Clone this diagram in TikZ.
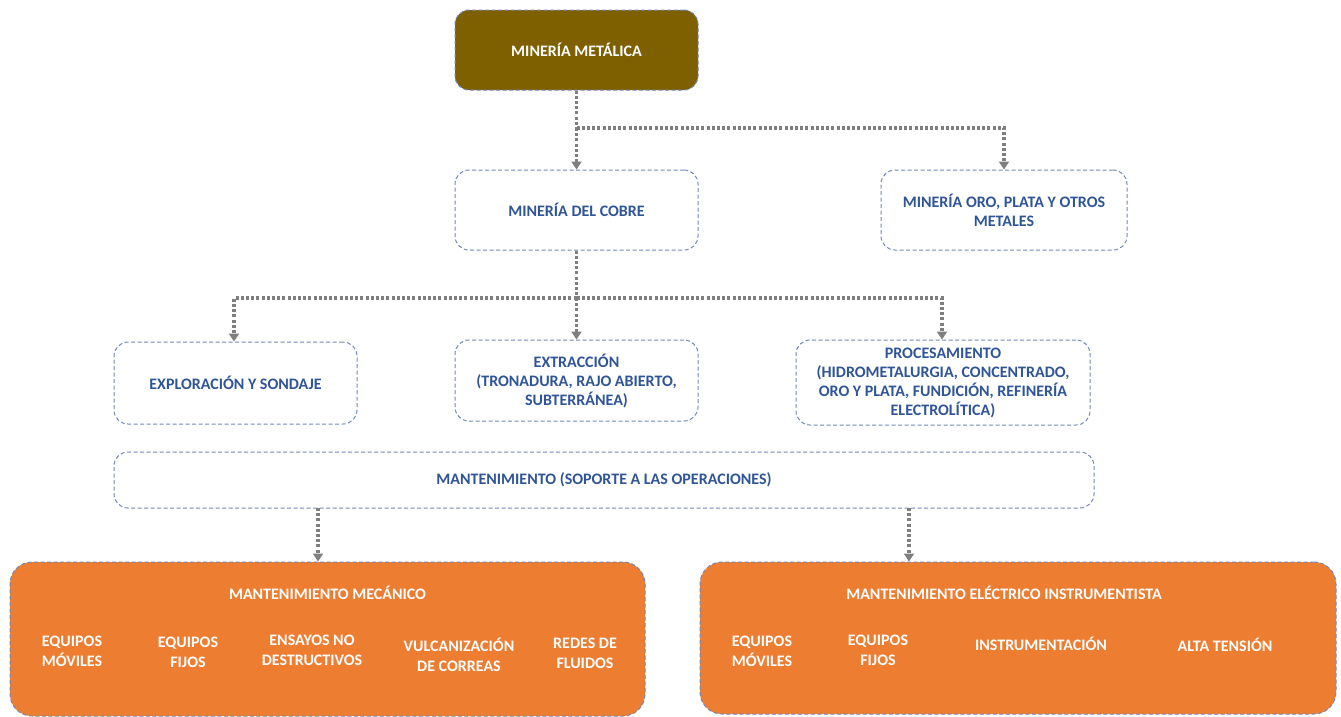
\documentclass[tikz,border=0pt]{standalone}
\usepackage{fontspec}
\setmainfont{Carlito}
\usetikzlibrary{arrows.meta}
\definecolor{brownfill}{HTML}{7F6000}
\definecolor{orangefill}{HTML}{ED7D31}
\definecolor{bluetext}{HTML}{2F5597}
\definecolor{borderc}{HTML}{7388B8}
\definecolor{connc}{HTML}{7F7F7F}
\tikzset{
  box/.style={draw=borderc, dash pattern=on 4pt off 2.5pt, line width=1pt, rounded corners=14pt, align=center, inner sep=2pt, text=bluetext, font=\fontsize{16}{19}\selectfont\bfseries},
  darkbox/.style={box, fill=brownfill, text=white},
  bigbox/.style={box, fill=orangefill, rounded corners=22pt},
  item/.style={align=center, text=white, font=\fontsize{16}{20}\selectfont\bfseries, inner sep=0pt, anchor=north},
  conn/.style={draw=connc, line width=3.2pt, dash pattern=on 3pt off 2.2pt},
  arr/.style={conn, -{Triangle[width=10pt,length=8pt]}}
}
\begin{document}
\begin{tikzpicture}[x=1pt,y=-1pt]
\useasboundingbox (0,0) rectangle (1341,716);
% top level
\node[darkbox, minimum width=243pt, minimum height=80pt] (top) at (576.5,50) {MINERÍA METÁLICA};
\node[box, minimum width=243pt, minimum height=80pt] (cobre) at (576.5,210) {MINERÍA DEL COBRE};
\node[box, minimum width=246pt, minimum height=80pt] (oro) at (1004,210) {MINERÍA ORO, PLATA Y OTROS\\METALES};
% second level
\node[box, minimum width=243pt, minimum height=82pt] (expl) at (235.5,383) {EXPLORACIÓN Y SONDAJE};
\node[box, minimum width=243pt, minimum height=81pt] (extr) at (576.5,380.5) {EXTRACCIÓN\\(TRONADURA, RAJO ABIERTO,\\SUBTERRÁNEA)};
\node[box, minimum width=294pt, minimum height=85pt] (proc) at (943,382.5) {PROCESAMIENTO\\(HIDROMETALURGIA, CONCENTRADO,\\ORO Y PLATA, FUNDICIÓN, REFINERÍA\\ELECTROLÍTICA)};
\node[box, minimum width=980pt, minimum height=56pt] (mant) at (604,480) {MANTENIMIENTO (SOPORTE A LAS OPERACIONES)};
% bottom boxes
\node[bigbox, minimum width=635pt, minimum height=154pt] (mec) at (327.5,639) {};
\node[bigbox, minimum width=636pt, minimum height=152pt] (ele) at (1018,638) {};
\node[item, anchor=center] (mect) at (327.5,593) {MANTENIMIENTO MECÁNICO};
\node[item, anchor=center] (elet) at (1004,593) {MANTENIMIENTO ELÉCTRICO INSTRUMENTISTA};
\node[item] (m1) at (72,636) {EQUIPOS\\MÓVILES};
\node[item] (m2) at (188,637) {EQUIPOS\\FIJOS};
\node[item] (m3) at (312,635) {ENSAYOS NO\\DESTRUCTIVOS};
\node[item] (m4) at (459,638) {VULCANIZACIÓN\\DE CORREAS};
\node[item] (m5) at (585,638) {REDES DE\\FLUIDOS};
\node[item] (e1) at (762,636) {EQUIPOS\\MÓVILES};
\node[item] (e2) at (878,635) {EQUIPOS\\FIJOS};
\node[item] (e3) at (1041,637) {INSTRUMENTACIÓN};
\node[item] (e4) at (1225,638) {ALTA TENSIÓN};
% connectors
\coordinate (j1) at (576.5,128);
\coordinate (j2) at (576.5,298);
\coordinate (k1) at (318,508);
\coordinate (k2) at (909,508);
\draw[conn] (top.south) -- (j1);
\draw[arr] (j1) -- (cobre.north);
\draw[arr] (j1) -| (oro.north);
\draw[conn] (cobre.south) -- (j2);
\draw[arr] (j2) -- (extr.north);
\draw[arr] (j2) -| (expl.north -| 234,0);
\draw[arr] (j2) -| (proc.north -| 942,0);
\draw[arr] (k1) -- (k1 |- mec.north);
\draw[arr] (k2) -- (k2 |- ele.north);
\end{tikzpicture}
\end{document}
